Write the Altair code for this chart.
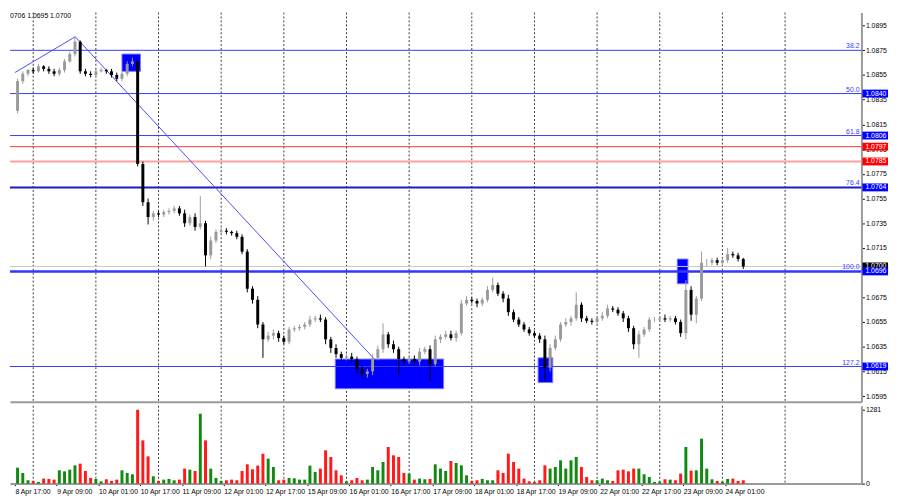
import altair as alt
import pandas as pd

# ---------------- data ----------------
# 2-hour candles; bar index i sits at hour offset t = 2*i (t=0 is 8 Apr 14:00)
first_bar_index = 2
first_open = 1.0826
closes = [
    1.0850, 1.0856, 1.0859, 1.0858, 1.0862, 1.0860, 1.0858, 1.0856, 1.0859, 1.0866,
    1.0872, 1.0882, 1.0858, 1.0856, 1.0855, 1.0858, 1.0859, 1.0858, 1.0855, 1.0852,
    1.0856, 1.0864, 1.0866, 1.0783, 1.0752, 1.0740, 1.0743, 1.0742, 1.0744, 1.0745,
    1.0747, 1.0743, 1.0735, 1.0740, 1.0732, 1.0735, 1.0709, 1.0721, 1.0728, 1.0729,
    1.0728, 1.0727, 1.0724, 1.0712, 1.0682, 1.0673, 1.0653, 1.0641, 1.0644, 1.0646,
    1.0642, 1.0639, 1.0649, 1.0650, 1.0651, 1.0653, 1.0657, 1.0658, 1.0657, 1.0641,
    1.0634, 1.0629, 1.0626, 1.0627, 1.0625, 1.0617, 1.0613, 1.0615, 1.0626, 1.0633,
    1.0645, 1.0637, 1.0633, 1.0625, 1.0623, 1.0625, 1.0623, 1.0631, 1.0633, 1.0621,
    1.0641, 1.0643, 1.0645, 1.0642, 1.0646, 1.0670, 1.0673, 1.0672, 1.0670, 1.0673,
    1.0681, 1.0685, 1.0678, 1.0674, 1.0663, 1.0657, 1.0653, 1.0649, 1.0646, 1.0644,
    1.0641, 1.0618, 1.0634, 1.0641, 1.0653, 1.0655, 1.0658, 1.0669, 1.0658, 1.0656,
    1.0655, 1.0658, 1.0660, 1.0666, 1.0665, 1.0662, 1.0658, 1.0650, 1.0637, 1.0645,
    1.0649, 1.0657, 1.0657, 1.0658, 1.0657, 1.0658, 1.0655, 1.0646, 1.0681, 1.0661,
    1.0674, 1.0703, 1.0703, 1.0705, 1.0703, 1.0705, 1.0710, 1.0709, 1.0706, 1.0700,
]
upper_wick_pips = [
    2, 2, 1, 2, 2, 1, 2, 2, 2, 2,
    2, 4, 1, 2, 2, 2, 2, 1, 2, 2,
    2, 2, 3, 1, 2, 3, 2, 2, 2, 2,
    2, 2, 3, 2, 3, 22, 2, 3, 2, 2,
    2, 1, 2, 2, 2, 2, 3, 2, 3, 3,
    2, 2, 2, 2, 2, 2, 3, 2, 3, 2,
    2, 3, 2, 2, 3, 2, 3, 2, 3, 3,
    9, 2, 3, 2, 2, 2, 3, 3, 2, 3,
    3, 2, 3, 3, 2, 3, 3, 2, 2, 2,
    3, 6, 2, 2, 3, 2, 2, 2, 2, 2,
    2, 3, 3, 3, 2, 3, 2, 10, 2, 2,
    2, 2, 3, 3, 2, 2, 2, 2, 2, 3,
    2, 2, 2, 2, 3, 2, 2, 2, 8, 3,
    2, 9, 3, 2, 2, 2, 5, 2, 2, 1,
]
lower_wick_pips = [
    2, 2, 2, 2, 1, 2, 2, 2, 2, 2,
    1, 2, 2, 2, 2, 2, 1, 2, 2, 2,
    2, 2, 2, 2, 3, 6, 3, 2, 2, 2,
    2, 2, 3, 2, 3, 2, 9, 3, 2, 2,
    2, 2, 2, 2, 3, 3, 3, 15, 2, 3,
    3, 2, 2, 2, 2, 2, 2, 2, 2, 4,
    4, 3, 2, 2, 3, 3, 4, 3, 3, 2,
    3, 3, 3, 13, 3, 2, 3, 3, 2, 14,
    2, 3, 2, 2, 3, 2, 2, 2, 3, 2,
    2, 2, 2, 3, 3, 2, 2, 2, 2, 2,
    3, 11, 3, 2, 2, 2, 3, 2, 3, 2,
    2, 2, 2, 2, 2, 2, 3, 3, 4, 11,
    2, 2, 2, 2, 2, 2, 2, 3, 5, 5,
    7, 2, 3, 2, 2, 2, 2, 2, 2, 2,
]
volumes = [
    277, 185, 58, 46, 29, 87, 81, 69, 231, 213,
    242, 317, 346, 219, 98, 81, 40, 75, 46, 69,
    231, 185, 162, 1281, 750, 473, 127, 46, 69, 81,
    58, 69, 260, 242, 219, 1212, 750, 260, 98, 46,
    58, 69, 58, 219, 335, 248, 312, 519, 433, 289,
    58, 69, 98, 92, 69, 69, 312, 202, 260, 577,
    462, 231, 144, 40, 58, 98, 58, 69, 289, 231,
    375, 635, 490, 462, 185, 173, 69, 87, 75, 81,
    335, 260, 219, 392, 358, 317, 144, 46, 58, 81,
    58, 58, 231, 185, 519, 375, 260, 87, 40, 29,
    58, 317, 260, 289, 404, 260, 404, 462, 289, 115,
    58, 58, 87, 58, 46, 231, 242, 213, 260, 260,
    162, 115, 29, 35, 75, 69, 58, 173, 635, 225,
    231, 779, 260, 75, 46, 35, 81, 87, 46, 58,
]

time_label_hours = [3, 19, 35, 51, 67, 83, 99, 115, 131, 147, 163, 179, 195, 211, 227, 243, 259, 275]
time_labels = [
    "8 Apr 17:00", "9 Apr 09:00", "10 Apr 01:00", "10 Apr 17:00", "11 Apr 09:00",
    "12 Apr 01:00", "12 Apr 17:00", "15 Apr 09:00", "16 Apr 01:00", "16 Apr 17:00",
    "17 Apr 09:00", "18 Apr 01:00", "18 Apr 17:00", "19 Apr 09:00", "22 Apr 01:00",
    "22 Apr 17:00", "23 Apr 09:00", "24 Apr 01:00",
]
day_separator_hours = [10, 34, 58, 82, 106, 130, 154, 178, 202, 226, 250, 274, 298]
price_ticks = [1.0595, 1.0615, 1.0635, 1.0655, 1.0675, 1.0695, 1.0715, 1.0735, 1.0755,
               1.0775, 1.0795, 1.0815, 1.0835, 1.0855, 1.0875, 1.0895]
volume_ticks = [0, 1281]

fib_prices = [1.0875, 1.0840, 1.0806, 1.0764, 1.0696, 1.0619]
fib_names = ["38.2", "50.0", "61.8", "76.4", "100.0", "127.2"]
red_prices = [1.0797, 1.0785]
current_price = 1.0700
header_text = "0706 1.0695 1.0700"

# trend lines (hour offset, price)
trend_t = [3.0, 26.1, 26.1, 140.7]
trend_p = [1.0857, 1.0886, 1.0886, 1.0625]
trend_seg = ["a", "a", "b", "b"]

# highlighted zones (hour offsets and prices)
zone_t1 = [44.0, 125.7, 203.4, 256.7]
zone_t2 = [51.1, 167.2, 209.0, 260.8]
zone_p1 = [1.0872, 1.0625, 1.0626, 1.0706]
zone_p2 = [1.0858, 1.0601, 1.0606, 1.0686]

# ---------------- tables ----------------
rows = []
prev = first_open
for k, c in enumerate(closes):
    o = prev
    rows.append({
        "t": 2 * (first_bar_index + k),
        "open": o,
        "close": c,
        "high": max(o, c) + upper_wick_pips[k] * 0.0001,
        "low": min(o, c) - lower_wick_pips[k] * 0.0001,
        "vol": volumes[k],
        "dir": "up" if c >= o else "down",
    })
    prev = c
df = pd.DataFrame(rows)

FONT = "'Liberation Sans Narrow', 'Liberation Sans', Arial, sans-serif"
W, H, VH = 864, 395, 79
xscale = alt.Scale(domain=[2.985, 325.37], nice=False, zero=False)
yscale = alt.Scale(domain=[1.05904, 1.09056], nice=False, zero=False)
vscale = alt.Scale(domain=[0, 1350], nice=False, zero=True)

price_axis = alt.Axis(orient="right", values=price_ticks, format=".4f", title=None, grid=False,
                      labelFont=FONT, labelFontSize=7, labelColor="#000000", tickSize=3,
                      tickColor="#000000", labelPadding=1, domainColor="#9a9a9a", domainWidth=2,
                      labelOverlap=False, labelBound=False)
x_hidden = alt.Axis(values=[0], labels=False, ticks=False, title=None, grid=False,
                    domainColor="#9a9a9a", domainWidth=2)

label_js = "[" + ",".join("'" + s + "'" for s in time_labels) + "]"
x_time = alt.Axis(values=time_label_hours, title=None, grid=False,
                  labelExpr=label_js + "[round((datum.value-3)/16)]",
                  labelAlign="left", labelFont=FONT, labelFontSize=7, labelColor="#000000",
                  tickSize=2, tickColor="#000000", labelPadding=2,
                  domainColor="#9a9a9a", domainWidth=2, labelOverlap=False)

dir_color = alt.Color("dir:N", scale=alt.Scale(domain=["up", "down"], range=["#9a9a9a", "#000000"]), legend=None)
vol_color = alt.Color("dir:N", scale=alt.Scale(domain=["up", "down"], range=["#128a12", "#ff1a1a"]), legend=None)


def Xp(field):
    return alt.X(f"{field}:Q", scale=xscale, axis=x_hidden)


def Yp(field):
    return alt.Y(f"{field}:Q", scale=yscale, axis=price_axis)


grid_df = pd.DataFrame({"t": day_separator_hours})
grid = alt.Chart(grid_df).mark_rule(color="#3a3a3a", strokeDash=[2, 2], strokeWidth=1).encode(
    x=Xp("t"))

fib_df = pd.DataFrame({"p": fib_prices, "name": fib_names})
red_df = pd.DataFrame({"p": red_prices})
cur_df = pd.DataFrame({"p": [current_price]})


def level(df_, color, width):
    return alt.Chart(df_).mark_rule(color=color, strokeWidth=width).encode(y=Yp("p"))


lv_thin = level(fib_df[fib_df["name"].isin(["38.2", "50.0", "61.8", "127.2"])], "#3c3cf0", 1)
lv_764 = level(fib_df[fib_df["name"] == "76.4"], "#1a1ad0", 2)
lv_100 = level(fib_df[fib_df["name"] == "100.0"], "#3434ff", 2.5)
lv_red1 = level(red_df.iloc[[0]], "#ff3333", 1)
lv_red2 = level(red_df.iloc[[1]], "#ffa0a0", 2)
lv_cur = level(cur_df, "#c8c8c8", 1)

fib_text = alt.Chart(fib_df).mark_text(align="right", baseline="bottom", dy=-1, fontSize=7,
                                        font=FONT, color="#3c3cf0").encode(
    x=alt.value(862), y=Yp("p"), text="name:N")

zone_df = pd.DataFrame({"t1": zone_t1, "t2": zone_t2, "p1": zone_p1, "p2": zone_p2})
zones = alt.Chart(zone_df).mark_rect(color="#0000ff", stroke="#7a7aff", strokeWidth=1).encode(
    x=Xp("t1"), x2="t2:Q", y=Yp("p1"), y2="p2:Q")

trend_df = pd.DataFrame({"t": trend_t, "p": trend_p, "seg": trend_seg})
trends = alt.Chart(trend_df).mark_line(color="#4a4aff", strokeWidth=1).encode(
    x=Xp("t"), y=Yp("p"), detail="seg:N")

base = alt.Chart(df)
wicks = base.mark_rule(strokeWidth=1).encode(
    x=Xp("t"), y=Yp("low"), y2="high:Q", color=dir_color)
bodies = base.mark_bar(size=3).encode(
    x=Xp("t"), y=Yp("open"), y2="close:Q", color=dir_color)

# right-side price tags
tag_blue_df = pd.DataFrame({"p": [1.0840, 1.0806, 1.0764, 1.0619, 1.0696]})
tag_blue_df["s"] = tag_blue_df["p"].map(lambda v: f"{v:.4f}")
tag_red_df = pd.DataFrame({"p": red_prices})
tag_red_df["s"] = tag_red_df["p"].map(lambda v: f"{v:.4f}")
tag_cur_df = cur_df.copy()
tag_cur_df["s"] = tag_cur_df["p"].map(lambda v: f"{v:.4f}")


def tag(df_, color):
    box = alt.Chart(df_).mark_rule(color=color, strokeWidth=8, strokeCap="butt").encode(
        x=alt.value(865), x2=alt.value(891), y=Yp("p"))
    txt = alt.Chart(df_).mark_text(align="left", baseline="middle", fontSize=7, font=FONT,
                                   color="#ffffff").encode(
        x=alt.value(868), y=Yp("p"), text="s:N")
    return box + txt


tags = tag(tag_cur_df, "#000000") + tag(tag_red_df, "#ff0000") + tag(tag_blue_df, "#0000ff")

header = alt.Chart(pd.DataFrame({"s": [header_text]})).mark_text(
    align="left", baseline="top", fontSize=7, font=FONT, color="#000000").encode(
    x=alt.value(0), y=alt.value(0), text="s:N")

price_panel = alt.layer(
    grid, zones, lv_cur, lv_thin, lv_764, lv_100, lv_red1, lv_red2, trends,
    wicks, bodies, fib_text, tags, header
).properties(width=W, height=H)

vol_axis = alt.Axis(orient="right", values=volume_ticks, format="d", title=None, grid=False,
                    labelFont=FONT, labelFontSize=7, labelColor="#000000", tickSize=3,
                    tickColor="#000000", labelPadding=1, domainColor="#9a9a9a", domainWidth=2,
                    labelOverlap=False)
vgrid = alt.Chart(grid_df).mark_rule(color="#3a3a3a", strokeDash=[2, 2], strokeWidth=1).encode(
    x=alt.X("t:Q", scale=xscale, axis=x_time))
vbars = base.mark_bar(size=3).encode(
    x=alt.X("t:Q", scale=xscale, axis=x_time),
    y=alt.Y("vol:Q", scale=vscale, axis=vol_axis),
    color=vol_color)
vol_panel = alt.layer(vgrid, vbars).properties(width=W, height=VH)

chart = alt.vconcat(price_panel, vol_panel, spacing=2).resolve_scale(
    color="independent", y="independent"
).properties(
    padding=0, background="#ffffff"
).configure_view(stroke=None).configure_axis(labelOverlap=False)

chart.save("out.html", embed_options={"renderer": "svg", "actions": False})
